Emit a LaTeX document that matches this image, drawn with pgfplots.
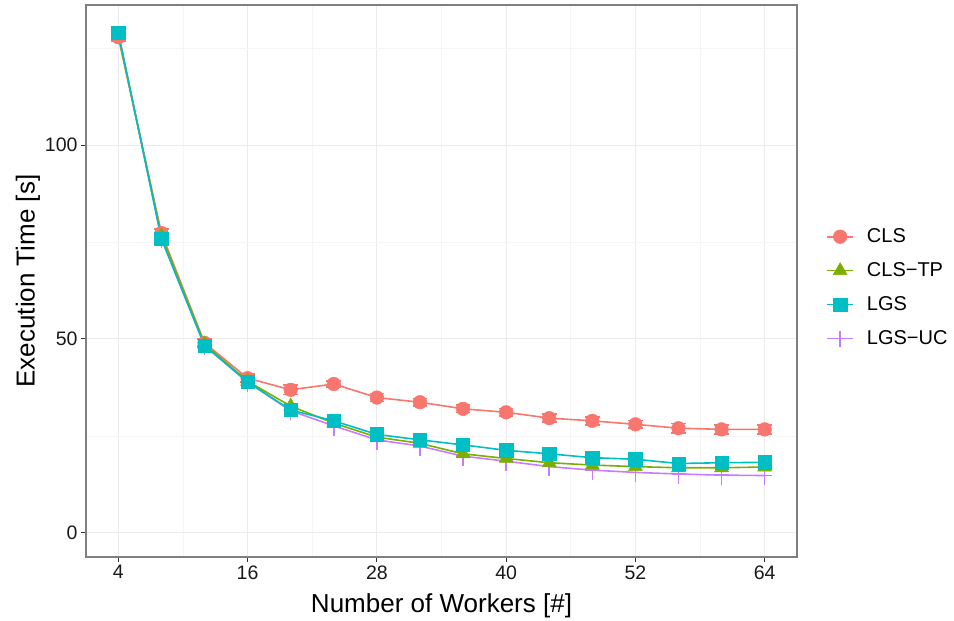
\documentclass[border=0pt]{standalone}
\usepackage{fontspec}
\setmainfont{Liberation Sans}
\usepackage{pgfplots}
\pgfplotsset{compat=1.18}
\definecolor{cls}{HTML}{F8766D}
\definecolor{clstp}{HTML}{7CAE00}
\definecolor{lgs}{HTML}{00BFC4}
\definecolor{lgsuc}{HTML}{C77CFF}
\definecolor{gridmaj}{HTML}{EBEBEB}
\definecolor{gridmin}{HTML}{F5F5F5}
\definecolor{border}{HTML}{7F7F7F}
\begin{document}
\begin{tikzpicture}
\path[use as bounding box] (0,0) rectangle (954bp,621bp);
\begin{axis}[
  at={(86bp,64bp)}, anchor=south west,
  scale only axis, width=711bp, height=552bp,
  xmin=1, xmax=67, ymin=-6.2, ymax=136.1,
  xtick={4,16,28,40,52,64}, minor xtick={10,22,34,46,58},
  ytick={0,50,100}, minor ytick={25,75,125},
  grid=both,
  major grid style={draw=gridmaj, line width=1bp},
  minor grid style={draw=gridmin, line width=0.6bp},
  axis line style={draw=border, line width=1.2bp},
  tick align=outside, tick pos=left,
  major tick length=5bp, minor tick length=0pt,
  tick style={draw=black!80, line width=1bp},
  ticklabel style={font=\fontsize{19.5bp}{23bp}\selectfont, text=black!90},
  /pgf/number format/assume math mode=true,
  xlabel={Number of Workers [\#]},
  ylabel={Execution Time [s]},
  label style={font=\fontsize{26bp}{30bp}\selectfont},
  xlabel style={at={(axis description cs:0.5,0)}, anchor=base, yshift=-55.7bp},
  ylabel style={at={(axis description cs:-0.0816,0.5)}, anchor=center},
  legend style={at={(1.041,0.488)}, anchor=west, draw=none, fill=none,
    font=\fontsize{20bp}{23bp}\selectfont, row sep=14.5bp, inner sep=0pt,
    /tikz/every odd column/.append style={column sep=11bp}},
  legend cell align=left,
  legend image code/.code={\draw[mark repeat=2, mark phase=2, #1] plot coordinates {(0bp,0bp) (13bp,0bp) (26bp,0bp)};},
]
% LGS-UC drawn first (underneath)
\addplot[forget plot, lgsuc, line width=1.6bp, mark=+, mark size=7bp,
  error bars/.cd, y dir=minus, y explicit, error mark=none,
  error bar style={line width=1.6bp, lgsuc}]
  coordinates {
  (4,128.8) -= (0,2.5) (8,76.0) -= (0,2.5) (12,48.3) -= (0,2.5) (16,38.9) -= (0,2.5)
  (20,31.5) -= (0,2.5) (24,27.6) -= (0,2.5) (28,24.0) -= (0,2.5) (32,22.4) -= (0,2.5)
  (36,19.8) -= (0,2.5) (40,18.5) -= (0,2.6) (44,17.1) -= (0,2.5) (48,16.2) -= (0,2.5)
  (52,15.6) -= (0,2.5) (56,15.2) -= (0,2.5) (60,14.9) -= (0,2.5) (64,14.8) -= (0,2.4)
  };
\addplot[forget plot, cls, line width=1.6bp, mark=*, mark size=6.8bp,
  mark options={solid, line width=0.5bp},
  error bars/.cd, y dir=both, y explicit, error mark=|,
  error bar style={line width=1.6bp, cls},
  error mark options={mark size=7.3bp, line width=1.6bp, cls}]
  coordinates {
  (4,127.8) +- (0,1.0) (8,77.3) +- (0,1.0) (12,49.0) +- (0,1.0) (16,39.9) +- (0,1.0)
  (20,36.9) +- (0,1.2) (24,38.4) +- (0,0.8) (28,34.9) +- (0,1.0) (32,33.7) +- (0,1.0)
  (36,32.0) +- (0,1.0) (40,31.1) +- (0,1.0) (44,29.6) +- (0,1.0) (48,28.9) +- (0,1.0)
  (52,28.0) +- (0,1.0) (56,27.0) +- (0,1.2) (60,26.7) +- (0,1.2) (64,26.7) +- (0,1.2)
  };
\addplot[forget plot, clstp, line width=1.6bp, mark=triangle*, mark size=8bp,
  mark options={solid, line width=0.5bp}]
  coordinates {
  (4,128.5) (8,76.6) (12,48.7) (16,39.1) (20,32.7) (24,28.3) (28,24.7) (32,23.1)
  (36,20.4) (40,19.2) (44,18.1) (48,17.5) (52,17.1) (56,16.8) (60,16.8) (64,17.0)
  };
\addplot[forget plot, lgs, line width=1.6bp, mark=square*, mark size=6.7bp,
  mark options={solid, line width=0.5bp}]
  coordinates {
  (4,129.0) (8,75.8) (12,48.3) (16,38.9) (20,31.7) (24,28.9) (28,25.4) (32,24.0)
  (36,22.7) (40,21.3) (44,20.4) (48,19.4) (52,19.0) (56,17.9) (60,18.1) (64,18.2)
  };
\addlegendimage{cls, line width=1.6bp, mark=*, mark size=6.8bp, mark options={solid, line width=0.5bp}}
\addlegendentry{CLS}
\addlegendimage{clstp, line width=1.6bp, mark=triangle*, mark size=8bp, mark options={solid, line width=0.5bp}}
\addlegendentry{CLS−TP}
\addlegendimage{lgs, line width=1.6bp, mark=square*, mark size=6.7bp, mark options={solid, line width=0.5bp}}
\addlegendentry{LGS}
\addlegendimage{lgsuc, line width=1.6bp, mark=+, mark size=8bp}
\addlegendentry{LGS−UC}
\end{axis}
\end{tikzpicture}
\end{document}
